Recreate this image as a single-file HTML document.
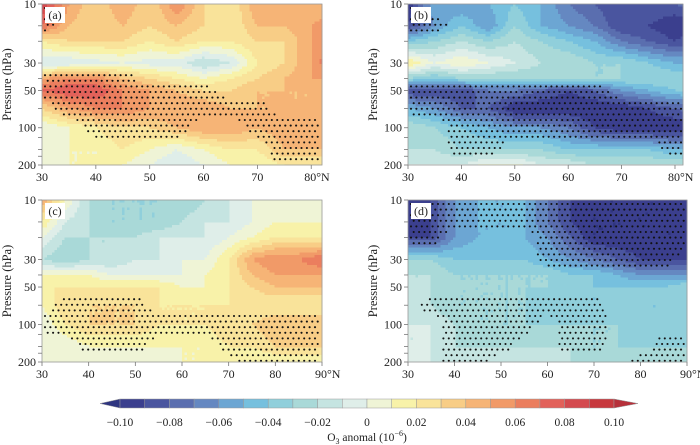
<!DOCTYPE html>
<html><head><meta charset="utf-8"><style>
body{margin:0;background:#fff;}
svg{display:block;}
text{font-family:"Liberation Serif","DejaVu Serif",serif;}
</style></head><body>
<svg id="chart" width="700" height="445" viewBox="0 0 700 445" font-family="Liberation Serif, DejaVu Serif, serif"></svg>
<script>
// pressure levels (hPa)
const levels=[10,15,20,30,40,50,70,100,150,200];
const latsAB=[30,35,40,45,50,55,60,65,70,75,80,85];
const latsCD=[30,35,40,45,50,55,60,65,70,75,80,85,90];
// values in 1e-8 (0.01 ppm)
const dataA=[
[9,5,3,5,3,6,3,2,5,4,4,4],
[7,4,3,4,3,4,3,2,4,4,5,6],
[2,3,3,3,2,3,2,2,3,3,5,7],
[-1,-1,-0.5,0,-0.5,-0.5,-2,-1,2,3,5,8],
[5,6,6,4,3,2,1,2,3,4,5,5],
[7,8,8,6,5,4,3,3,4,4,4,5],
[3,5,6,6,5,5,5,4,4,4,4,4],
[0,1,2,3,3,4,5,5,4,5,5,5],
[0,1,1,2,1,0,1,2,2,4,4,4],
[0,1,1,1,0,-1,0,1,1,2,2,2]];
const dataB=[
[-10,-5,-6,-5,-4,-5,-7,-8,-9,-8,-8,-7],
[-9,-6,-4,-6,-3,-5,-6,-7,-9,-9,-10,-9],
[-4,-3,-2,-3,-2,-3,-4,-5,-7,-8,-9,-8],
[2,0,1,0,-1,-2,-2,-3,-3,-4,-5,-5],
[-3,-4,-3,-3,-3,-3,-2,-3,-3,-3,-3,-3],
[-9,-9,-9,-7,-7,-8,-9,-8,-6,-5,-4,-4],
[-5,-6,-8,-8,-10,-10,-10,-10,-10,-9,-8,-7],
[-2,-3,-4,-5,-6,-6,-7,-9,-10,-10,-10,-10],
[-2,-2,-3,-3,-3,-3,-4,-4,-4,-4,-5,-5],
[-1,-1,-1,0.5,0.5,-1,-1,-2,-2,-2,-2,-2]];
const dataC=[
[5,1,-2,-3,-3,-3,-3,-2,-1,0,0,0,0],
[2,-1,-2,-3,-3,-3,-2,-1,-1,0,1,1,1],
[0,-2,-2,-2,-2,-1,-1,-1,0,1,2,2,2],
[-2,-3,-2,-2,-1,-1,0,0,2,5,6,6,7],
[1,1,1,0,0,0,0,1,2,4,5,5,5],
[2,2,2,2,2,2,1,1,2,3,4,4,4],
[1,3,3,3,3,2,2,2,2,2,2,2,2],
[0,2,3,3,3,2,2,2,3,3,4,4,4],
[0,0,1,1,1,1,1,1,2,2,3,3,3],
[0,0,0,0,0,0,1,1,1,1,1,1,1]];
const dataD=[
[-10,-9,-6,-5,-5,-5,-7,-9,-10,-10,-10,-10,-10],
[-10,-9,-6,-5,-5,-5,-7,-9,-10,-10,-10,-10,-10],
[-9,-9,-6,-5,-5,-5,-6,-8,-10,-10,-10,-10,-10],
[-3,-3,-4,-4,-4,-4,-5,-6,-7,-8,-9,-9,-9],
[-2,-2,-3,-3,-3,-3,-3,-4,-4,-5,-6,-6,-6],
[-2,-2,-3,-3,-3,-3,-3,-3,-4,-4,-4,-4,-3],
[-1,-2,-3,-3,-3,-3,-4,-4,-4,-4,-4,-4,-3],
[-1,-1,-2,-3,-3,-3,-3,-3,-3,-3,-4,-4,-4],
[-1,-1,-2,-2,-2,-2,-2,-2,-3,-3,-3,-3,-3],
[0,-1,-1,-1,-1,-1,-1,-2,-2,-2,-2,-2,-2]];
// significance masks
const maskA=[
[1,0,0,0,0,0,0,0,0,0,0,0],[1,0,0,0,0,0,0,0,0,0,0,0],[0,0,0,0,0,0,0,0,0,0,0,0],[0,0,0,0,0,0,0,0,0,0,0,0],
[1,1,1,1,0,0,0,0,0,0,0,0],[1,1,1,1,1,1,1,0,0,0,0,0],[0,1,1,1,1,1,1,1,1,0,0,0],
[0,0,1,1,1,1,0,0,1,1,1,0],[0,0,0,0,0,0,0,0,0,1,1,0],[0,0,0,0,0,0,0,0,0,1,1,0]];
const maskB=[
[1,0,0,0,0,0,0,0,0,0,0,0],[1,1,0,0,0,0,0,0,0,0,0,0],[0,0,0,0,0,0,0,0,0,0,0,0],[0,0,0,0,0,0,0,0,0,0,0,0],
[0,0,0,0,0,0,0,0,0,0,0,0],[1,1,1,1,1,1,1,1,0,0,0,0],[1,1,1,1,1,1,1,1,1,1,1,0],
[0,0,1,1,1,1,1,1,1,1,1,0],[0,0,1,1,0,0,0,0,0,0,1,0],[0,0,0,0,0,0,0,0,0,0,0,0]];
const maskC=[
[0,0,0,0,0,0,0,0,0,0,0,0,0],[0,0,0,0,0,0,0,0,0,0,0,0,0],[0,0,0,0,0,0,0,0,0,0,0,0,0],[0,0,0,0,0,0,0,0,0,0,0,0,0],
[0,0,0,0,0,0,0,0,0,0,0,0,0],[0,0,0,0,0,0,0,0,0,0,0,0,0],[0,1,1,1,1,0,0,0,0,0,0,0,0],
[1,1,1,1,1,1,1,1,1,1,1,1,1],[0,0,1,1,1,0,0,0,1,1,1,1,1],[0,0,0,0,0,0,0,0,0,1,1,1,1]];
const maskD=[
[1,1,1,1,1,1,1,1,1,1,1,1,1],[1,1,1,1,1,1,1,1,1,1,1,1,1],[1,1,0,0,0,0,1,1,1,1,1,1,1],[0,0,0,0,0,0,1,1,1,1,1,1,0],
[0,0,0,0,0,0,0,0,0,0,0,0,0],[0,0,0,0,0,0,0,0,0,0,0,0,0],[0,1,1,1,1,1,1,1,1,0,0,0,0],
[0,0,1,1,1,1,0,1,1,0,0,0,0],[0,0,1,1,1,0,0,1,1,0,0,1,1],[0,0,1,1,0,0,0,0,0,0,1,1,1]];
const colors=["#3b3f8e","#4a559f","#5a6eaf","#6588c1","#6ca6d3","#76c0de","#90cfdb","#a9d9d8","#c5e4e1","#dfeee9",
"#eff4d6","#f8f2a9","#f9e39a","#f8cd86","#f6b476","#f19a68","#eb7e5e","#e2615a","#d44a4f","#c7383d"];
const lowColor="#2f3580", highColor="#b6303a";
const cbTicks=["\u22120.10","\u22120.08","\u22120.06","\u22120.04","\u22120.02","0","0.02","0.04","0.06","0.08","0.10"];

const NS="http://www.w3.org/2000/svg";
const svg=document.getElementById('chart');
function mk(tag,attrs,parent){const e=document.createElementNS(NS,tag);for(const k in attrs)e.setAttribute(k,attrs[k]);(parent||svg).appendChild(e);return e;}
function colorFor(v){if(v<-10)return lowColor;if(v>=10)return highColor;return colors[Math.floor(v)+10];}

const panels=[
{id:'a',x0:42,x1:322,y0:4,y1:165,latMin:30,latMax:82,lats:latsAB,data:dataA,mask:maskA,ticks:[30,40,50,60,70,80],last:"80\u00b0N"},
{id:'b',x0:408,x1:683,y0:4,y1:165,latMin:30,latMax:81.5,lats:latsAB,data:dataB,mask:maskB,ticks:[30,40,50,60,70,80],last:"80\u00b0N"},
{id:'c',x0:42,x1:322,y0:200,y1:362,latMin:30,latMax:90,lats:latsCD,data:dataC,mask:maskC,ticks:[30,40,50,60,70,80,90],last:"90\u00b0N"},
{id:'d',x0:408,x1:687,y0:200,y1:362,latMin:30,latMax:90,lats:latsCD,data:dataD,mask:maskD,ticks:[30,40,50,60,70,80,90],last:"90\u00b0N"}];

function bil(P,d,lat,lp){
  const L=P.lats, lv=levels.map(Math.log10);
  let i=0;while(i<L.length-2&&lat>L[i+1])i++;
  let j=0;while(j<lv.length-2&&lp>lv[j+1])j++;
  const tx=Math.max(0,Math.min(1,(lat-L[i])/(L[i+1]-L[i])));
  const ty=Math.max(0,Math.min(1,(lp-lv[j])/(lv[j+1]-lv[j])));
  return d[j][i]*(1-tx)*(1-ty)+d[j][i+1]*tx*(1-ty)+d[j+1][i]*(1-tx)*ty+d[j+1][i+1]*tx*ty;
}

panels.forEach(P=>{
  const g=mk('g',{});
  
  
  const xs=lat=>P.x0+(lat-P.latMin)/(P.latMax-P.latMin)*(P.x1-P.x0);
  const ys=p=>P.y0+(Math.log10(p)-1)/(Math.log10(200)-1)*(P.y1-P.y0);
  const xinv=x=>P.latMin+(x-P.x0)/(P.x1-P.x0)*(P.latMax-P.latMin);
  const yinv=y=>1+(y-P.y0)/(P.y1-P.y0)*(Math.log10(200)-1);
  const cs=2.5;
  for(let y=P.y0;y<P.y1;y+=cs){
    for(let x=P.x0;x<P.x1;x+=cs){
      const v=bil(P,P.data,xinv(x+cs/2),yinv(y+cs/2));
      const r=mk('rect',{x:x,y:y,width:Math.min(cs,P.x1-x)+0.4,height:Math.min(cs,P.y1-y)+0.4,fill:colorFor(v)},g);
      
      
    }
  }
  const dg=mk('g',{fill:'#111'},g);
  
  
  let row=0;
  for(let y=P.y0+4;y<P.y1-1;y+=5.6){
    const off=(row%2)*2.7;row++;
    for(let x=P.x0+3+off;x<P.x1-2;x+=5.4){
      if(bil(P,P.mask,xinv(x),yinv(y))>=0.5){mk('circle',{cx:x.toFixed(1),cy:y.toFixed(1),r:1.05},dg);}
    }
  }
  const fr=mk('rect',{x:P.x0,y:P.y0,width:P.x1-P.x0,height:P.y1-P.y0,fill:'none',stroke:'#999','stroke-width':0.8},g);
  
  
  [10,15,20,30,40,50,70,100,120,150,170,200].forEach(p=>{
    const y=ys(p);mk('line',{x1:P.x0-4,x2:P.x0,y1:y,y2:y,stroke:'#777','stroke-width':0.8},g);
  });
  [10,30,50,100,200].forEach(p=>{
    const t=mk('text',{x:P.x0-6,y:ys(p)+4,'text-anchor':'end','font-size':12,fill:'#222'},g);
    t.textContent=p;
    
    
  });
  const yt=mk('text',{x:0,y:0,'text-anchor':'middle','font-size':12.5,fill:'#222',transform:`translate(${P.x0-31},${(P.y0+P.y1)/2}) rotate(-90)`},g);
  yt.textContent='Pressure (hPa)';
  
  
  P.ticks.forEach((lat,k)=>{
    const x=xs(lat);
    mk('line',{x1:x,x2:x,y1:P.y1,y2:P.y1+4,stroke:'#777','stroke-width':0.8},g);
    const last=k===P.ticks.length-1;
    const t=mk('text',{x:last?x-7:x,y:P.y1+16,'text-anchor':last?'start':'middle','font-size':12,fill:'#222'},g);
    t.textContent=last?P.last:lat;
    
    
  });
  const lb=mk('rect',{x:P.x0+3,y:P.y0+3,width:20,height:16,fill:'#fff'},g);
  
  
  const lt=mk('text',{x:P.x0+13,y:P.y0+15,'text-anchor':'middle','font-size':12,fill:'#222'},g);
  lt.textContent='('+P.id+')';
  
  
});

const cb=mk('g',{});


const cbx0=120,cbx1=614,cby=399,cbh=9,bw=(cbx1-cbx0)/colors.length;
const la=mk('polygon',{points:`${cbx0},${cby} ${cbx0},${cby+cbh} ${100},${cby+cbh/2}`,fill:lowColor,stroke:'#999','stroke-width':0.5},cb);


colors.forEach((c,i)=>{
  const r=mk('rect',{x:cbx0+i*bw,y:cby,width:bw,height:cbh,fill:c,stroke:'#999','stroke-width':0.5},cb);
  
  
});
const ra=mk('polygon',{points:`${cbx1},${cby} ${cbx1},${cby+cbh} ${638},${cby+cbh/2}`,fill:highColor,stroke:'#999','stroke-width':0.5},cb);


cbTicks.forEach((s,i)=>{
  const t=mk('text',{x:cbx0+i*2*bw,y:cby+27,'text-anchor':'middle','font-size':11.5,fill:'#222'},cb);
  t.textContent=s;
  
  
});
const ct=mk('text',{x:367,y:441,'text-anchor':'middle','font-size':11.5,fill:'#222'},cb);
ct.innerHTML='O<tspan font-size="8" dy="3">3</tspan><tspan dy="-3"> anomal (10</tspan><tspan font-size="8" dy="-5">\u22126</tspan><tspan dy="5">)</tspan>';


</script>
</body></html>
